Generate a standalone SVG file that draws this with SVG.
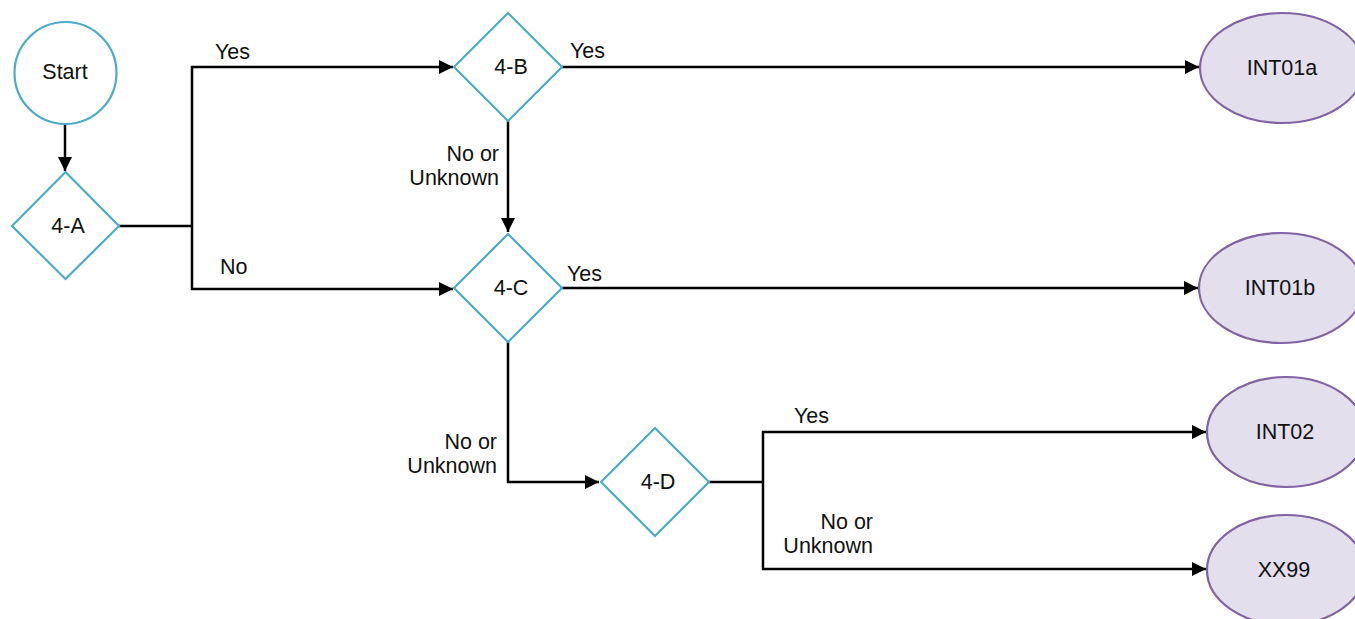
<svg xmlns="http://www.w3.org/2000/svg" width="1355" height="619" viewBox="0 0 1355 619">
  <style>
    text { font-family: "Liberation Sans", Arial, sans-serif; font-size: 21.5px; fill: #111; }
    .mid { text-anchor: middle; }
    .end { text-anchor: end; }
    .decision { fill: #fff; stroke: #4BACC6; stroke-width: 2.2; }
    .start { fill: #fff; stroke: #4BACC6; stroke-width: 2.2; }
    .outcome { fill: #E4DFEC; stroke: #8064A2; stroke-width: 2.2; }
    .wire { fill: none; stroke: #000; stroke-width: 2.5; }
  </style>
  <defs>
    <marker id="arrow" viewBox="0 0 10 10" refX="10" refY="5" markerWidth="6.4" markerHeight="5.6" markerUnits="strokeWidth" orient="auto">
      <path d="M0,0 L10,5 L0,10 Z" fill="#000"/>
    </marker>
  </defs>
  <rect width="1355" height="619" fill="#fff"/>

  <g id="connectors">
    <path class="wire" d="M65,124 V171" marker-end="url(#arrow)"/>
    <path class="wire" d="M119,226 H192"/>
    <path class="wire" d="M192,226 V67 H453" marker-end="url(#arrow)"/>
    <path class="wire" d="M192,226 V289 H453" marker-end="url(#arrow)"/>
    <path class="wire" d="M562,67 H1199" marker-end="url(#arrow)"/>
    <path class="wire" d="M508,121 V232" marker-end="url(#arrow)"/>
    <path class="wire" d="M562,288 H1198" marker-end="url(#arrow)"/>
    <path class="wire" d="M508,342 V482 H599" marker-end="url(#arrow)"/>
    <path class="wire" d="M709,482 H763"/>
    <path class="wire" d="M763,482 V432 H1206" marker-end="url(#arrow)"/>
    <path class="wire" d="M763,482 V569 H1206" marker-end="url(#arrow)"/>
    <text x="215" y="59">Yes</text>
    <text x="220" y="274">No</text>
    <text x="570" y="58">Yes</text>
    <text x="567" y="281">Yes</text>
    <text class="end" x="499" y="161">No or</text>
    <text class="end" x="499" y="185">Unknown</text>
    <text class="end" x="497" y="449">No or</text>
    <text class="end" x="497" y="473">Unknown</text>
    <text x="794" y="423">Yes</text>
    <text class="end" x="873" y="529">No or</text>
    <text class="end" x="873" y="553">Unknown</text>
  </g>

  <g id="start">
    <circle class="start" cx="65.5" cy="73" r="51"/>
    <text class="mid" x="65" y="79">Start</text>
  </g>
  <g id="q4a">
    <polygon class="decision" points="65.5,172 119,226 65.5,279 12,226"/>
    <text class="mid" x="68" y="233">4-A</text>
  </g>
  <g id="q4b">
    <polygon class="decision" points="508,13 562,67 508,121 454,67"/>
    <text class="mid" x="511" y="74">4-B</text>
  </g>
  <g id="q4c">
    <polygon class="decision" points="508,234 562,288 508,342 454,288"/>
    <text class="mid" x="511" y="295">4-C</text>
  </g>
  <g id="q4d">
    <polygon class="decision" points="655,428 709,482 655,536 601,482"/>
    <text class="mid" x="658" y="489">4-D</text>
  </g>
  <g id="int01a">
    <ellipse class="outcome" cx="1282" cy="68" rx="82" ry="55"/>
    <text class="mid" x="1282" y="75">INT01a</text>
  </g>
  <g id="int01b">
    <ellipse class="outcome" cx="1281" cy="288" rx="82" ry="55"/>
    <text class="mid" x="1280" y="295">INT01b</text>
  </g>
  <g id="int02">
    <ellipse class="outcome" cx="1286" cy="432" rx="79" ry="55"/>
    <text class="mid" x="1285" y="439">INT02</text>
  </g>
  <g id="xx99">
    <ellipse class="outcome" cx="1286" cy="570" rx="79" ry="55"/>
    <text class="mid" x="1284" y="577">XX99</text>
  </g>
</svg>
